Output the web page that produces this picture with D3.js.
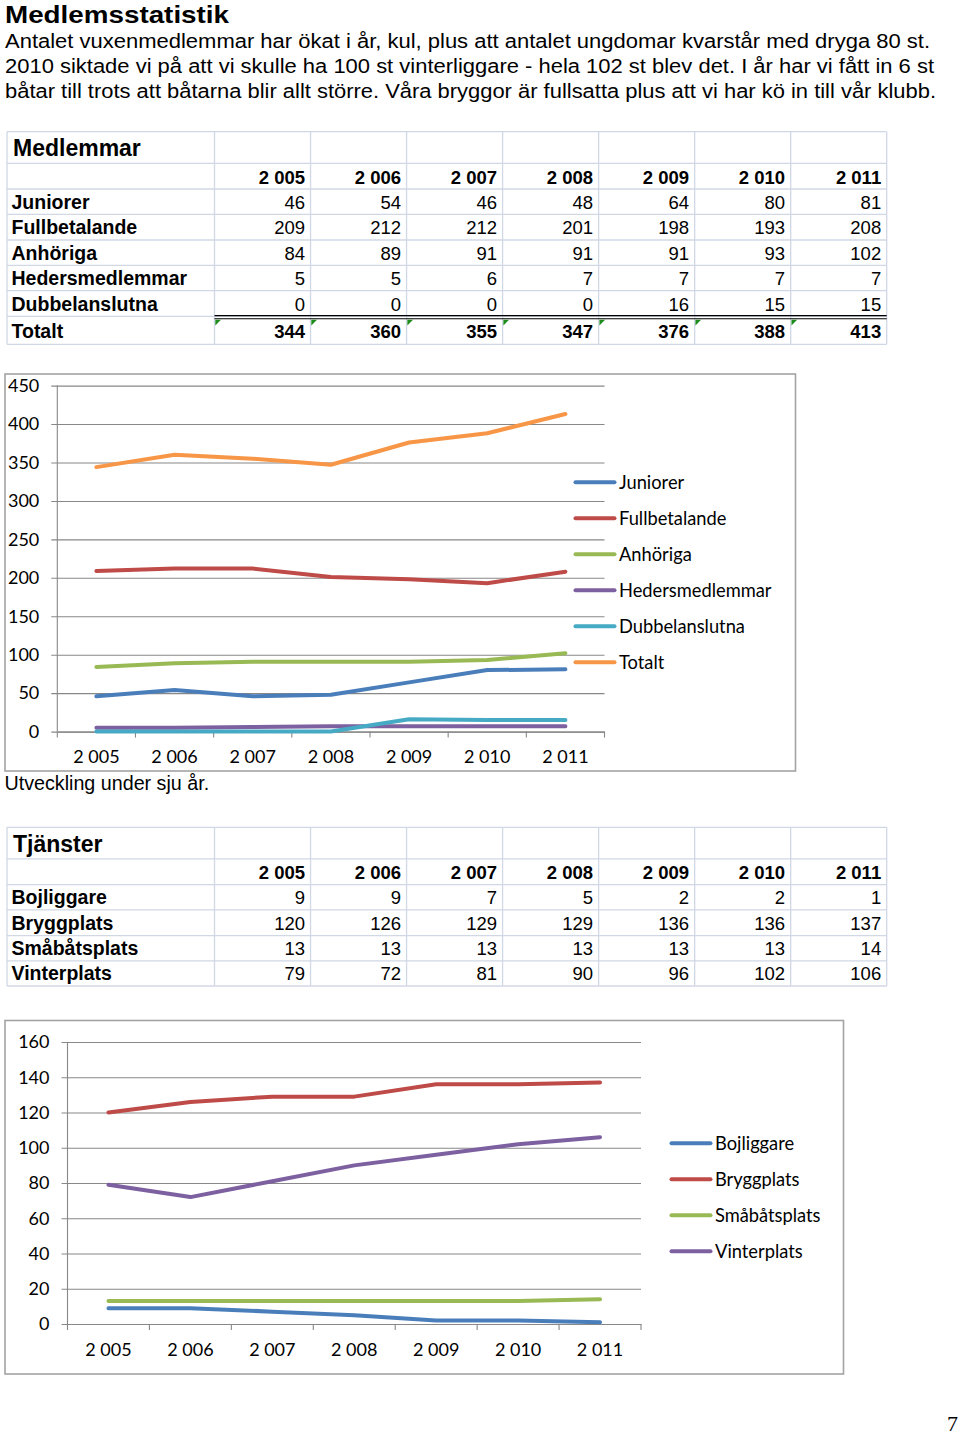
<!DOCTYPE html>
<html><head><meta charset="utf-8">
<script src="https://cdn.jsdelivr.net/npm/d3@7"></script>
<style>body{margin:0;background:#fff}svg{display:block}</style>
</head><body><svg id="c" width="960" height="1435"></svg>
<script>
// ---------- DATA ----------
const years = ["2 005","2 006","2 007","2 008","2 009","2 010","2 011"];

const memberNames = ["Juniorer","Fullbetalande","Anhöriga","Hedersmedlemmar","Dubbelanslutna","Totalt"];
const juniorer        = [46, 54, 46, 48, 64, 80, 81];
const fullbetalande   = [209, 212, 212, 201, 198, 193, 208];
const anhoriga        = [84, 89, 91, 91, 91, 93, 102];
const hedersmedlemmar = [5, 5, 6, 7, 7, 7, 7];
const dubbelanslutna  = [0, 0, 0, 0, 16, 15, 15];
const totalt          = [344, 360, 355, 347, 376, 388, 413];
const memberTicks = [0, 50, 100, 150, 200, 250, 300, 350, 400, 450];

const serviceNames = ["Bojliggare","Bryggplats","Småbåtsplats","Vinterplats"];
const bojliggare  = [9, 9, 7, 5, 2, 2, 1];
const bryggplats  = [120, 126, 129, 129, 136, 136, 137];
const smabatsplats = [13, 13, 13, 13, 13, 13, 14];
const vinterplats = [79, 72, 81, 90, 96, 102, 106];
const serviceTicks = [0, 20, 40, 60, 80, 100, 120, 140, 160];

const heading = "Medlemsstatistik";
const paragraph = [
  "Antalet vuxenmedlemmar har ökat i år, kul, plus att antalet ungdomar kvarstår med dryga 80 st.",
  "2010 siktade vi på att vi skulle ha 100 st vinterliggare - hela 102 st blev det. I år har vi fått in 6 st",
  "båtar till trots att båtarna blir allt större. Våra bryggor är fullsatta plus att vi har kö in till vår klubb."
];
const caption = "Utveckling under sju år.";
const pageNumber = "7";

// ---------- STYLE ----------
const memberValues = [juniorer, fullbetalande, anhoriga, hedersmedlemmar, dubbelanslutna, totalt];
const memberColors = ["#4A7EBB","#BE4B48","#98B954","#7D60A0","#46AAC5","#F79646"];
const serviceValues = [bojliggare, bryggplats, smabatsplats, vinterplats];
const serviceColors = ["#4A7EBB","#BE4B48","#98B954","#7D60A0"];

const svg = d3.select("#c");
const ARIAL = "'Liberation Sans', Arial, sans-serif";
const CAL = "Lato, 'Open Sans', sans-serif";

// ---------- HEADER TEXT ----------
svg.append("text").attr("x", 5).attr("y", 23).attr("font-family", ARIAL)
  .attr("font-weight", "bold").attr("font-size", 24.5)
  .attr("textLength", 224).attr("lengthAdjust", "spacingAndGlyphs").text(heading);
const pw = [925, 929, 931];
paragraph.forEach((t, i) => {
  svg.append("text").attr("x", 5).attr("y", 48 + i * 25).attr("font-family", ARIAL)
    .attr("font-size", 20).attr("textLength", pw[i]).attr("lengthAdjust", "spacingAndGlyphs").text(t);
});

// ---------- TABLES ----------
function drawTable(top, title, names, values, totals) {
  const g = svg.append("g");
  const left = 7, labelRight = 214.5, right = 886.7;
  const col = d3.scaleBand().domain(years).range([labelRight, right]);
  const offs = [0, 31.6, 57.3, 82.6, 108.3, 133.6, 159, 184.7, 212.6];
  const nRows = names.length + (totals ? 1 : 0);
  const bounds = offs.slice(0, 2 + nRows + 1).map(o => top + o);
  if (!totals) {
    bounds[bounds.length - 1] = top + offs[2 + nRows] - 0.3;
  }
  const bottom = bounds[bounds.length - 1];
  const grid = "#D0D7E5";
  bounds.forEach(b => g.append("line").attr("x1", left).attr("x2", right)
    .attr("y1", b).attr("y2", b).attr("stroke", grid).attr("stroke-width", 1.3));
  [left, labelRight].concat(years.map(y => col(y) + col.bandwidth())).forEach(x =>
    g.append("line").attr("x1", x).attr("x2", x).attr("y1", top).attr("y2", bottom)
      .attr("stroke", grid).attr("stroke-width", 1.3));
  g.append("text").attr("x", 13).attr("y", top + 24.5).attr("font-family", ARIAL)
    .attr("font-weight", "bold").attr("font-size", 23).text(title);
  years.forEach(y => g.append("text").attr("x", col(y) + col.bandwidth() - 5.5)
    .attr("y", bounds[1] + 20.3).attr("text-anchor", "end").attr("font-family", ARIAL)
    .attr("font-weight", "bold").attr("font-size", 18.5).text(y));
  names.forEach((n, r) => {
    const c = (bounds[2 + r] + bounds[3 + r]) / 2;
    g.append("text").attr("x", 11.5).attr("y", c + 7).attr("font-family", ARIAL)
      .attr("font-weight", "bold").attr("font-size", 19.5).text(n);
    values[r].forEach((v, i) => g.append("text").attr("x", col(years[i]) + col.bandwidth() - 5.5)
      .attr("y", c + 7).attr("text-anchor", "end").attr("font-family", ARIAL)
      .attr("font-size", 18.5).text(v));
  });
  if (totals) {
    const tTop = bounds[2 + names.length];
    g.append("line").attr("x1", labelRight).attr("x2", right).attr("y1", tTop - 0.8).attr("y2", tTop - 0.8)
      .attr("stroke", "#000").attr("stroke-width", 1.1);
    g.append("line").attr("x1", labelRight).attr("x2", right).attr("y1", tTop + 2.4).attr("y2", tTop + 2.4)
      .attr("stroke", "#000").attr("stroke-width", 1.1);
    g.append("text").attr("x", 11.5).attr("y", tTop + 21.8).attr("font-family", ARIAL)
      .attr("font-weight", "bold").attr("font-size", 19.5).text(totals.label);
    totals.values.forEach((v, i) => {
      const cx = col(years[i]);
      g.append("path").attr("d", `M${cx + 0.8},${tTop + 3.3}L${cx + 6.5},${tTop + 3.3}L${cx + 0.8},${tTop + 9}Z`)
        .attr("fill", "#1E8C1E");
      g.append("text").attr("x", cx + col.bandwidth() - 5.5).attr("y", tTop + 21.8)
        .attr("text-anchor", "end").attr("font-family", ARIAL).attr("font-weight", "bold")
        .attr("font-size", 18.5).text(v);
    });
  }
}
drawTable(131.7, "Medlemmar", memberNames.slice(0, 5), memberValues.slice(0, 5),
  { label: memberNames[5], values: totalt });
drawTable(827.3, "Tjänster", serviceNames, serviceValues, null);

// ---------- LINE CHARTS ----------
function drawChart(opt) {
  const g = svg.append("g");
  g.append("rect").attr("x", opt.box[0]).attr("y", opt.box[1]).attr("width", opt.box[2])
    .attr("height", opt.box[3]).attr("fill", "#fff").attr("stroke", "#A3A3A3").attr("stroke-width", 1.6);
  const x = d3.scaleBand().domain(years).range([opt.x0, opt.x1]);
  const y = d3.scaleLinear().domain([0, d3.max(opt.ticks)]).range([opt.y0, opt.y1]);
  const ya = g.append("g").attr("transform", `translate(${opt.x0 - 6},0)`)
    .call(d3.axisLeft(y).tickValues(opt.ticks).tickSize(-(opt.x1 - opt.x0 + 6)).tickPadding(12));
  ya.select(".domain").remove();
  ya.selectAll("line").attr("stroke", "#888").attr("stroke-width", 1.1);
  ya.selectAll("text").attr("font-family", CAL).attr("font-size", 18).attr("fill", "#000");
  g.append("line").attr("x1", opt.x0).attr("x2", opt.x0).attr("y1", y(d3.max(opt.ticks)))
    .attr("y2", opt.y0).attr("stroke", "#888").attr("stroke-width", 1.1);
  const xa = g.append("g").attr("transform", `translate(0,${opt.y0})`)
    .call(d3.axisBottom(x).tickSize(0));
  xa.select(".domain").attr("stroke", "#888").attr("stroke-width", 1.1);
  xa.selectAll("text").attr("font-family", CAL).attr("font-size", 18).attr("fill", "#000")
    .attr("y", opt.labelOff).attr("dy", "0.35em");
  years.concat([null]).forEach((yr) => {
    const bx = yr ? x(yr) : opt.x1;
    g.append("line").attr("x1", bx).attr("x2", bx).attr("y1", opt.y0).attr("y2", opt.y0 + 6)
      .attr("stroke", "#888").attr("stroke-width", 1.1);
  });
  const line = d3.line().x((d, i) => x(years[i]) + x.bandwidth() / 2).y(d => y(d));
  opt.values.forEach((vals, s) => {
    g.append("path").attr("d", line(vals)).attr("fill", "none").attr("stroke", opt.colors[s])
      .attr("stroke-width", 4).attr("stroke-linejoin", "round").attr("stroke-linecap", "round");
  });
  opt.names.forEach((n, i) => {
    const ly = opt.leg[1] + i * 36;
    g.append("line").attr("x1", opt.leg[0]).attr("x2", opt.leg[0] + 39).attr("y1", ly).attr("y2", ly)
      .attr("stroke", opt.colors[i]).attr("stroke-width", 4).attr("stroke-linecap", "round");
    g.append("text").attr("x", opt.leg[0] + 43.5).attr("y", ly).attr("dy", "0.35em")
      .attr("font-family", CAL).attr("font-size", 18.3).text(n);
  });
}

drawChart({
  box: [5, 374, 790.5, 397], x0: 57.3, x1: 604.5, y0: 731.6, y1: 385.6,
  ticks: memberTicks, values: memberValues, colors: memberColors, names: memberNames,
  leg: [575.5, 482.3], labelOff: 25.5
});
svg.append("text").attr("x", 4.5).attr("y", 790).attr("font-family", ARIAL).attr("font-size", 19.7)
  .text(caption);

drawChart({
  box: [5, 1020.5, 838.5, 353.5], x0: 67.5, x1: 641, y0: 1324, y1: 1042,
  ticks: serviceTicks, values: serviceValues, colors: serviceColors, names: serviceNames,
  leg: [671.5, 1143.3], labelOff: 26
});

svg.append("text").attr("x", 958).attr("y", 1431).attr("text-anchor", "end")
  .attr("font-family", "'Liberation Serif', 'Times New Roman', serif").attr("font-size", 22).text(pageNumber);
</script>
</body></html>
